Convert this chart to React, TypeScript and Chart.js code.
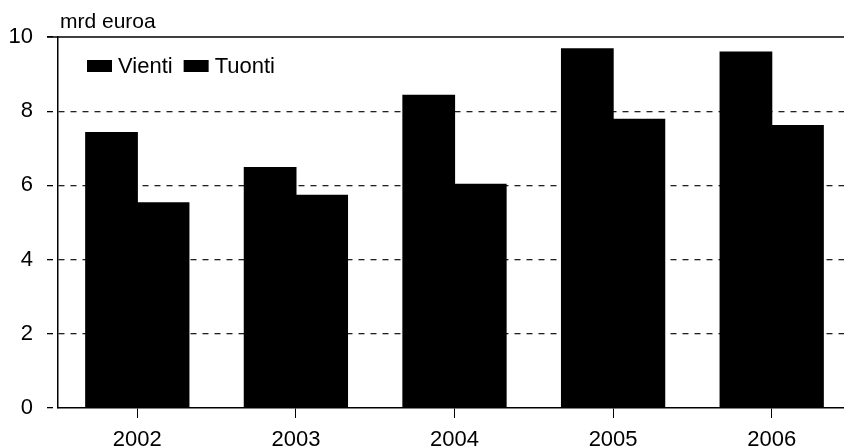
import React, { useEffect, useRef } from "react";
import { Chart, registerables } from "chart.js";

Chart.register(...registerables);

const categories = ["2002", "2003", "2004", "2005", "2006"];
const vienti = [7.42, 6.48, 8.43, 9.68, 9.59];
const tuonti = [5.53, 5.73, 6.03, 7.78, 7.61];
const yTicks = [0, 2, 4, 6, 8, 10];
const unitLabel = "mrd euroa";
const seriesNames = ["Vienti", "Tuonti"];

const FONT = "'Liberation Sans', Arial, sans-serif";

const overlay = {
  id: "overlay",
  afterDraw(chart: any) {
    const { ctx, chartArea } = chart;
    ctx.save();
    // top solid line
    ctx.strokeStyle = "#000";
    ctx.lineWidth = 1.5;
    ctx.beginPath();
    ctx.moveTo(chartArea.left - 11, chartArea.top);
    ctx.lineTo(chart.width, chartArea.top);
    ctx.stroke();
    // unit label
    ctx.fillStyle = "#000";
    ctx.font = `21px ${FONT}`;
    ctx.textBaseline = "alphabetic";
    ctx.textAlign = "left";
    ctx.fillText(unitLabel, 60, 28);
    // legend
    ctx.font = `22px ${FONT}`;
    ctx.textBaseline = "middle";
    let x = 87;
    const y = 66;
    chart.data.datasets.forEach((ds: any) => {
      ctx.fillStyle = ds.backgroundColor;
      ctx.fillRect(x, y - 6, 25, 12);
      ctx.fillStyle = "#000";
      ctx.fillText(ds.label, x + 31, y + 1);
      x += 31 + ctx.measureText(ds.label).width + 11;
    });
    ctx.restore();
  },
};

export default function App() {
  const ref = useRef<HTMLCanvasElement>(null);
  useEffect(() => {
    const chart = new Chart(ref.current!, {
      type: "bar",
      data: {
        labels: categories,
        datasets: [
          { label: seriesNames[0], data: vienti, backgroundColor: "#000" },
          { label: seriesNames[1], data: tuonti, backgroundColor: "#000" },
        ],
      },
      options: {
        animation: false,
        responsive: false,
        maintainAspectRatio: false,
        layout: { padding: { top: 37, right: 0, left: 0, bottom: 0 } },
        datasets: { bar: { categoryPercentage: 0.65, barPercentage: 1, inflateAmount: 0.6 } },
        plugins: { legend: { display: false }, tooltip: { enabled: false } },
        scales: {
          x: {
            afterFit: (s: any) => { s.height = 40; },
            grid: {
              offset: false,
              drawOnChartArea: false,
              drawTicks: true,
              tickLength: 10,
              color: "#000",
              lineWidth: 1,
            },
            border: { display: true, color: "#000", width: 1.5 },
            ticks: { color: "#000", font: { family: FONT, size: 22 }, padding: 9 },
          },
          y: {
            min: 0,
            max: 10,
            afterFit: (s: any) => { s.width = 58; },
            afterBuildTicks: (s: any) => { s.ticks = yTicks.map((v) => ({ value: v })); },
            grid: {
              color: (c: any) => (c.tick && (c.tick.value === 0 || c.tick.value === 10) ? "rgba(0,0,0,0)" : "#222"),
              lineWidth: 1.3,
              tickLength: 11,
              tickColor: "#000",
              tickBorderDash: [6, 6],
            },
            border: { display: true, color: "#000", width: 1.5, dash: [6, 6] },
            ticks: { color: "#000", font: { family: FONT, size: 22 }, padding: 14 },
          },
        },
      },
      plugins: [overlay],
    });
    return () => chart.destroy();
  }, []);
  return (
    <div style={{ position: "fixed", left: 0, top: 0, width: 844, height: 448, overflow: "hidden", background: "#fff" }}>
      <canvas ref={ref} width={851} height={448} style={{ display: "block" }} />
    </div>
  );
}
